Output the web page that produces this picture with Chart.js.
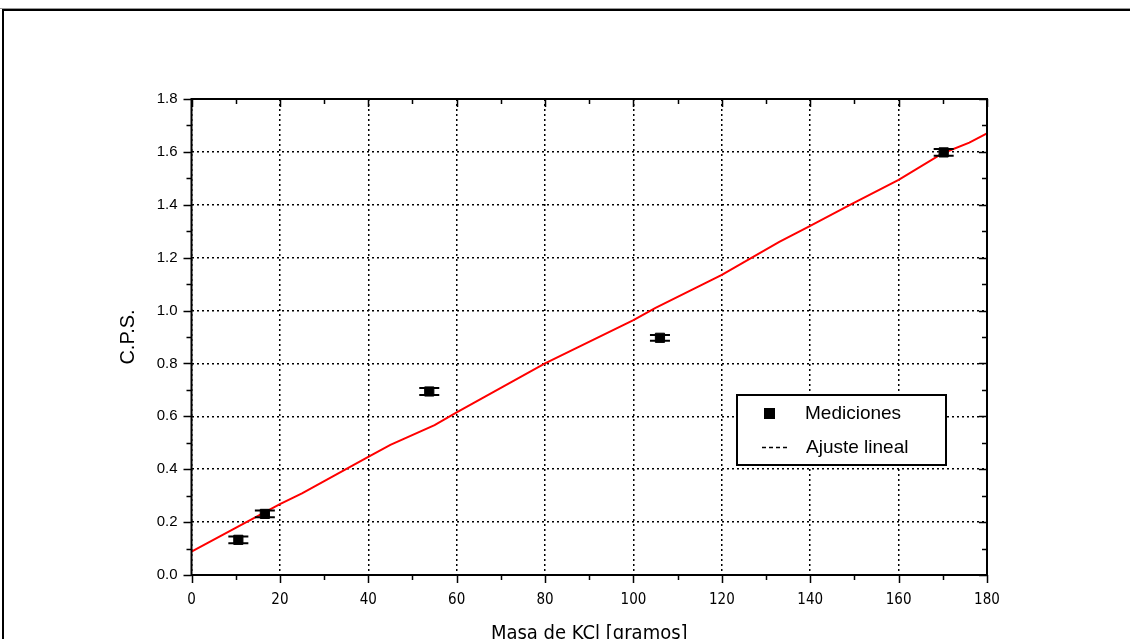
<!DOCTYPE html>
<html>
<head>
<meta charset="utf-8">
<script src="https://cdn.jsdelivr.net/npm/chart.js@4.4.1/dist/chart.umd.min.js"></script>
<style>
  html, body { margin: 0; padding: 0; background: #fff; overflow: hidden; }
  #wrap { position: absolute; left: 0; top: 0; width: 1130px; height: 639px; }
  #frame { position: absolute; left: 2px; top: 9px; width: 1200px; height: 700px;
           border-top: 2px solid #000; border-left: 2px solid #000; }
  #gray { position: absolute; left: 0; top: 8px; width: 1130px; height: 1px; background: #999; }
</style>
</head>
<body>
<div id="wrap">
  <div id="gray"></div>
  <div id="frame"></div>
  <canvas id="grafico" width="1130" height="639" style="position:absolute;left:0;top:0"></canvas>
</div>
<script>
// datos medidos
const masa = [10.6, 16.6, 53.8, 106.0, 170.2];
const cps = [0.133, 0.231, 0.694, 0.897, 1.598];
const errCps = [0.013, 0.013, 0.013, 0.011, 0.013];

// curva de ajuste
const ajusteX = [0, 10, 20, 25, 40, 45, 55, 60, 80, 100, 105, 120, 133, 140, 149, 160, 170, 176, 180];
const ajusteY = [0.088, 0.178, 0.268, 0.309, 0.447, 0.492, 0.567, 0.615, 0.80, 0.964, 1.01, 1.135, 1.26, 1.32, 1.40, 1.494, 1.595, 1.635, 1.67];

const xTicks = [0, 20, 40, 60, 80, 100, 120, 140, 160, 180];
const yTicks = [0.0, 0.2, 0.4, 0.6, 0.8, 1.0, 1.2, 1.4, 1.6, 1.8];

const fuente = "'Liberation Sans', Arial, sans-serif";
const fuenteAngosta = "'Liberation Sans Narrow', 'DejaVu Sans Condensed', 'Liberation Sans', Arial, sans-serif";

// error bars, marco, ticks, titulos y leyenda
const extras = {
  id: 'extras',
  afterDatasetsDraw(chart) {
    const c = chart.ctx;
    const xs = chart.scales.x, ys = chart.scales.y;
    const a = chart.chartArea;
    c.save();
    // barras de error
    c.strokeStyle = '#000';
    c.lineWidth = 2;
    for (let i = 0; i < masa.length; i++) {
      const px = xs.getPixelForValue(masa[i]);
      const y1 = ys.getPixelForValue(cps[i] + errCps[i]);
      const y2 = ys.getPixelForValue(cps[i] - errCps[i]);
      c.beginPath();
      c.moveTo(px, y1); c.lineTo(px, y2);
      c.moveTo(px - 10, y1); c.lineTo(px + 10, y1);
      c.moveTo(px - 10, y2); c.lineTo(px + 10, y2);
      c.stroke();
    }
    // marco
    c.lineWidth = 2;
    c.strokeRect(a.left, a.top, a.right - a.left, a.bottom - a.top);
    // ticks
    c.lineWidth = 1.5;
    c.beginPath();
    for (let v = 0; v <= 180; v += 10) {
      const px = Math.round(xs.getPixelForValue(v)) + 0.5;
      const len = v % 20 === 0 ? 8 : 5;
      c.moveTo(px, a.bottom); c.lineTo(px, a.bottom + len);
      c.moveTo(px, a.top); c.lineTo(px, a.top + len);
    }
    for (let k = 0; k <= 18; k++) {
      const py = Math.round(ys.getPixelForValue(k / 10)) + 0.5;
      const len = k % 2 === 0 ? 8 : 5;
      c.moveTo(a.left, py); c.lineTo(a.left - len, py);
      c.moveTo(a.right, py); c.lineTo(a.right - len, py);
    }
    c.stroke();
    // titulos de ejes
    c.fillStyle = '#000';
    c.textAlign = 'center';
    c.textBaseline = 'middle';
    c.font = '20px ' + fuenteAngosta;
    c.fillText('Masa de KCl [gramos]', (a.left + a.right) / 2, 634);
    c.save();
    c.translate(128, 337);
    c.rotate(-Math.PI / 2);
    c.font = '20px ' + fuente;
    c.fillText('C.P.S.', 0, 0);
    c.restore();
    // leyenda
    const lx = 737, ly = 395, lw = 209, lh = 70;
    c.fillStyle = '#fff';
    c.fillRect(lx, ly, lw, lh);
    c.lineWidth = 2;
    c.strokeStyle = '#000';
    c.strokeRect(lx, ly, lw, lh);
    c.fillStyle = '#000';
    c.fillRect(764, 408, 11, 11);
    c.lineWidth = 1.5;
    c.setLineDash([4, 3]);
    c.beginPath();
    c.moveTo(762, 447.5); c.lineTo(790, 447.5);
    c.stroke();
    c.setLineDash([]);
    c.textAlign = 'left';
    c.font = '19px ' + fuente;
    c.fillText(chart.data.datasets[0].label, 805, 414);
    c.fillText(chart.data.datasets[1].label, 806, 448);
    c.restore();
  }
};

const ctx = document.getElementById('grafico').getContext('2d');
new Chart(ctx, {
  type: 'scatter',
  data: {
    datasets: [
      {
        label: 'Mediciones',
        data: masa.map((m, i) => ({ x: m, y: cps[i] })),
        pointStyle: 'rect',
        pointRadius: 6.5,
        backgroundColor: '#000',
        borderColor: '#000',
        order: 1
      },
      {
        label: 'Ajuste lineal',
        data: ajusteX.map((m, i) => ({ x: m, y: ajusteY[i] })),
        showLine: true,
        pointRadius: 0,
        borderColor: '#ff0000',
        borderWidth: 2,
        tension: 0,
        order: 2
      }
    ]
  },
  options: {
    responsive: false,
    animation: false,
    layout: { padding: { left: 0, top: 99, right: 143, bottom: 0 } },
    plugins: { legend: { display: false }, tooltip: { enabled: false } },
    scales: {
      x: {
        type: 'linear', min: 0, max: 180,
        afterFit(s) { s.height = 64; },
        afterBuildTicks(s) { s.ticks = xTicks.map(v => ({ value: v })); },
        grid: { color: '#000', lineWidth: 1.5, drawTicks: false },
        border: { display: false, dash: [2, 3] },
        ticks: { color: '#000', padding: 16, maxRotation: 0, font: { family: fuenteAngosta, size: 15 } }
      },
      y: {
        type: 'linear', min: 0, max: 1.8,
        afterFit(s) { s.width = 191.5; },
        afterBuildTicks(s) { s.ticks = yTicks.map(v => ({ value: v })); },
        grid: { color: '#000', lineWidth: 1.5, drawTicks: false },
        border: { display: false, dash: [2, 3] },
        ticks: { color: '#000', padding: 14, font: { family: fuente, size: 15 },
                 callback: v => Number(v).toFixed(1) }
      }
    }
  },
  plugins: [extras]
});
</script>
</body>
</html>
